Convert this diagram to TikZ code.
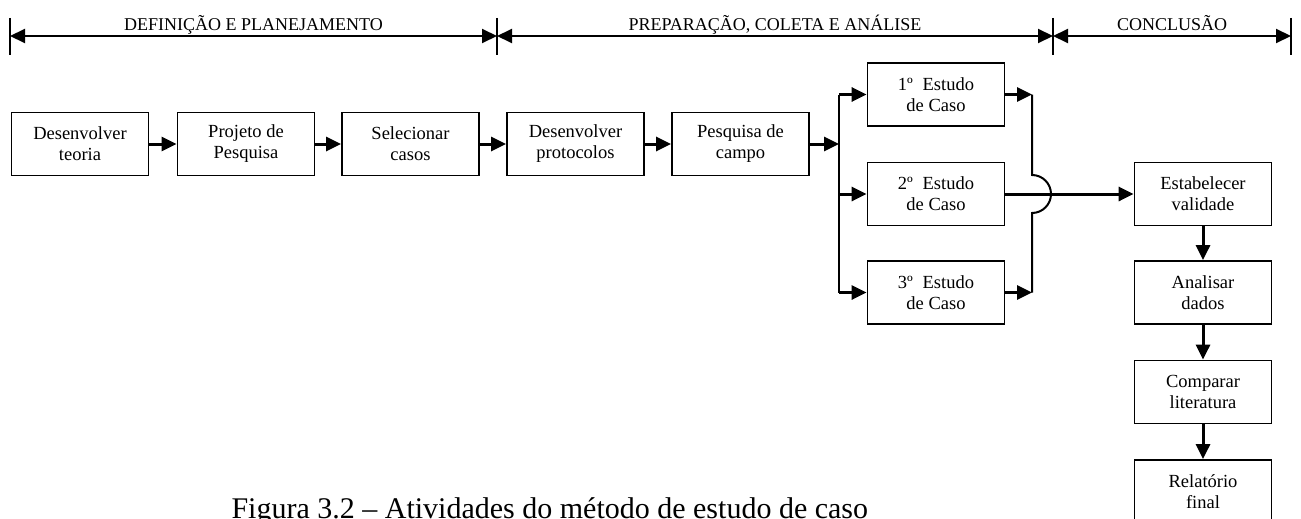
\documentclass[tikz,border=0pt]{standalone}
\usepackage{fontspec}
\setmainfont{Liberation Serif}
\usetikzlibrary{arrows.meta,calc,positioning}

\begin{document}
\begin{tikzpicture}[x=1pt, y=-1pt, >={Triangle[length=15pt,width=14pt]},
  etapa/.style={draw, line width=1.8pt, minimum width=137pt, minimum height=63pt,
    inner sep=0pt, align=center, font=\fontsize{18.5}{21}\selectfont},
  fluxo/.style={->, line width=3pt},
  fase/.style={anchor=base, font=\fontsize{18}{20}\selectfont}]
\useasboundingbox (0,0) rectangle (1301,519);

% fases (cabecalho)
\foreach \m/\x in {m0/10, m1/497, m2/1053, m3/1291} {
  \coordinate (\m) at (\x,36);
  \draw[line width=1.2pt] (\m) +(0,-18) -- +(0,19);
}
\draw[<->, line width=2pt] (m0) -- (m1);
\draw[<->, line width=2pt] (m1) -- (m2);
\draw[<->, line width=2pt] (m2) -- (m3);
\node[fase] (fase1) at (253.5,31) {DEFINIÇÃO E PLANEJAMENTO};
\node[fase] (fase2) at (775,31) {PREPARAÇÃO, COLETA E ANÁLISE};
\node[fase] (fase3) at (1172,31) {CONCLUSÃO};

% primeira linha
\foreach \nome/\x/\texto in {teoria/80/{Desenvolver\\teoria},
    projeto/246/{Projeto de\\Pesquisa}, casos/410.5/{Selecionar\\casos},
    protocolos/575.5/{Desenvolver\\protocolos}, campo/740.5/{Pesquisa de\\campo}} {
  \node[etapa] (\nome) at (\x,144) {\texto};
}
\foreach \a/\b in {teoria/projeto, projeto/casos, casos/protocolos, protocolos/campo}
  \draw[fluxo] (\a) -- (\b);

% estudos de caso
\node[etapa] (caso1) at (936,94.5) {1º\; Estudo\\de Caso};
\node[etapa] (caso2) at (936,194) {2º\; Estudo\\de Caso};
\node[etapa] (caso3) at (936,292.5) {3º\; Estudo\\de Caso};

\coordinate (ramo) at (839,144);
\draw[fluxo] (campo) -- (ramo);
\draw[line width=2pt] (ramo |- caso1) -- (ramo |- caso3);
\foreach \c in {caso1, caso2, caso3}
  \draw[fluxo] (ramo |- \c) -- (\c);

% conclusao
\node[etapa] (validade) at (1203,194) {Estabelecer\\validade};
\node[etapa] (analise) at (1203,292.5) {Analisar\\dados};
\node[etapa] (literatura) at (1203,392) {Comparar\\literatura};
\node[etapa] (relatorio) at (1203,491.5) {Relatório\\final};

\coordinate (junta) at (1032,194);
\coordinate (saltoA) at (1032,175);
\coordinate (saltoB) at (1032,213);
\draw[fluxo] (caso1) -- (caso1 -| junta);
\draw[fluxo] (caso3) -- (caso3 -| junta);
\draw[line width=2pt] (caso3 -| junta) -- (saltoB)
  arc[start angle=-90, end angle=90, radius=19pt] -- (caso1 -| junta);
\draw[fluxo] (caso2) -- (validade);
\draw[fluxo] (validade) -- (analise);
\draw[fluxo] (analise) -- (literatura);
\draw[fluxo] (literatura) -- (relatorio);

\node[anchor=base west, font=\fontsize{30}{32}\selectfont] (legenda) at (228,518)
  {Figura 3.2 – Atividades do método de estudo de caso};
\end{tikzpicture}
\end{document}
